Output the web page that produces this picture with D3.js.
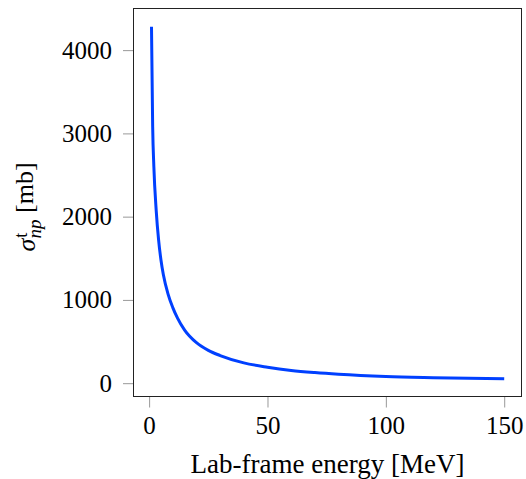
<!DOCTYPE html>
<body style="margin:0">
<svg width="526" height="479"></svg>
<script src="https://d3js.org/d3.v7.min.js"></script>
<script>

// lab-frame energy (MeV) and total np cross section (mb)
var energy = [1, 1.5, 2, 3, 4, 5, 6, 8, 10, 12, 15, 20, 25, 30, 40, 50, 60, 70, 80, 100, 120, 150];
var sigma  = [4280, 3080, 2600, 2070, 1720, 1480, 1305, 1070, 908, 781, 637, 486, 394, 332, 244, 192, 153, 127, 107, 80, 66, 52];
var xTicks = [0, 50, 100, 150];
var yTicks = [0, 1000, 2000, 3000, 4000];

var data = energy.map(function(e, i) { return {E: e, s: sigma[i]}; });

var svg = d3.select("svg"),
    margin = {top: 8.5, right: 4.5, bottom: 82.5, left: 133.5},
    width = +svg.attr("width") - margin.left - margin.right,
    height = +svg.attr("height") - margin.top - margin.bottom,
    g = svg.append("g").attr("transform", "translate(" + margin.left + "," + margin.top + ")");

var font = "'Liberation Serif', 'Times New Roman', serif";

var x = d3.scaleLinear()
    .domain([-6.6, 157.3])
    .range([0, width]);

var y = d3.scaleLinear()
    .domain([-160, 4500])
    .range([height, 0]);

var line = d3.line()
    .x(function(d) { return x(d.E); })
    .y(function(d) { return y(d.s); })
    .curve(d3.curveMonotoneX);

var xAxis = g.append("g")
    .attr("transform", "translate(0," + height + ")")
    .call(d3.axisBottom(x).tickValues(xTicks).tickFormat(d3.format("d")).tickSize(11).tickPadding(9));

var yAxis = g.append("g")
    .call(d3.axisLeft(y).tickValues(yTicks).tickFormat(d3.format("d")).tickSize(10.5).tickPadding(11));

[xAxis, yAxis].forEach(function(a) {
  a.select(".domain").remove();
  a.selectAll("line").attr("stroke", "#999");
  a.selectAll("text")
      .attr("fill", "#000")
      .style("font-family", font)
      .style("font-size", "25px");
});

g.append("rect")
    .attr("width", width)
    .attr("height", height)
    .attr("fill", "none")
    .attr("stroke", "#222")
    .attr("stroke-width", 1);

g.append("path")
    .datum(data)
    .attr("fill", "none")
    .attr("stroke", "#0040ff")
    .attr("stroke-width", 3)
    .attr("stroke-linejoin", "round")
    .attr("d", line);

svg.append("text")
    .attr("x", margin.left + width / 2)
    .attr("y", 473)
    .attr("text-anchor", "middle")
    .style("font-family", font)
    .style("font-size", "27px")
    .text("Lab-frame energy [MeV]");

var yl = svg.append("text")
    .attr("transform", "translate(35,207) rotate(-90)")
    .attr("text-anchor", "middle")
    .style("font-family", font)
    .style("font-size", "26px");
yl.append("tspan").style("font-style", "italic").text("σ");
yl.append("tspan").attr("dx", "0.05em").attr("dy", "-0.45em").style("font-size", "18px").text("t");
yl.append("tspan").attr("dx", "-0.3em").attr("dy", "0.75em").style("font-size", "19px").style("font-style", "italic").text("np");
yl.append("tspan").attr("dy", "-0.3em").text("\u00a0[mb]");

</script>
</body>
